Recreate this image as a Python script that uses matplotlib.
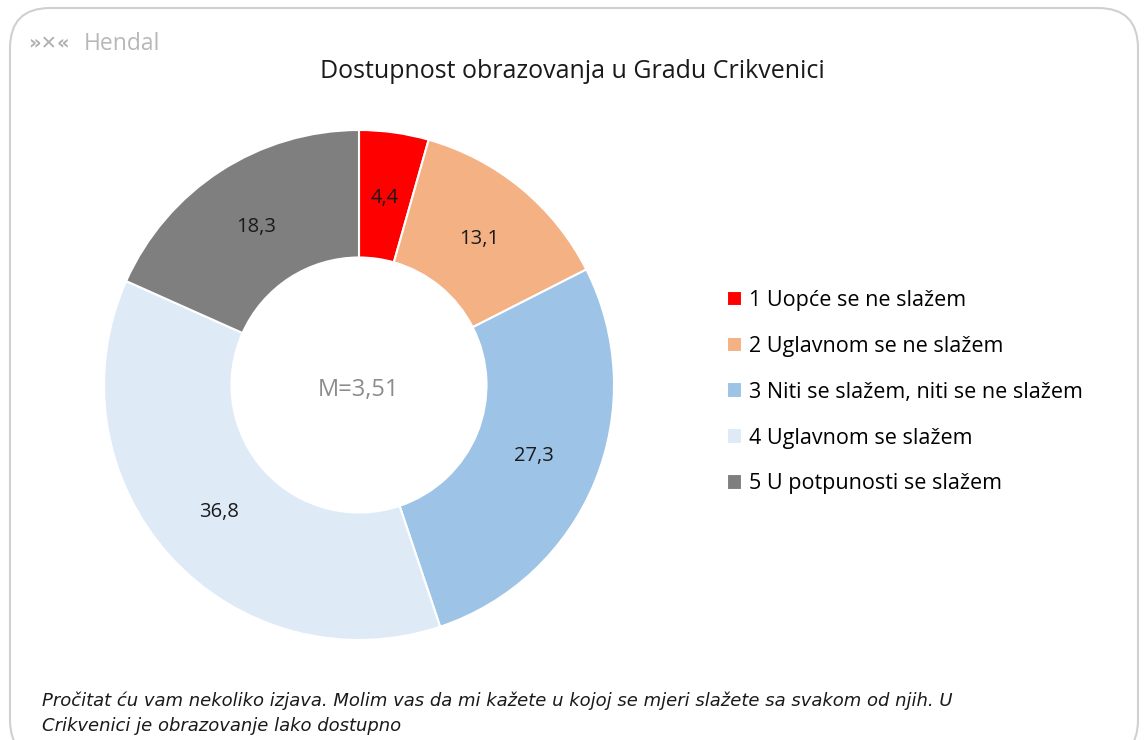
import matplotlib.pyplot as plt
from matplotlib.patches import FancyBboxPatch

# podaci sa slike
categories = ['1 Uopće se ne slažem', '2 Uglavnom se ne slažem',
              '3 Niti se slažem, niti se ne slažem', '4 Uglavnom se slažem',
              '5 U potpunosti se slažem']
values = [4.4, 13.1, 27.3, 36.8, 18.3]
colors = ['#FF0000', '#F4B183', '#9DC3E6', '#DEEBF7', '#7F7F7F']
mean_label = 'M=3,51'
title = 'Dostupnost obrazovanja u Gradu Crikvenici'
note = ('Pročitat ću vam nekoliko izjava. Molim vas da mi kažete u kojoj se mjeri slažete sa svakom od njih. U\n'
        'Crikvenici je obrazovanje lako dostupno')

plt.rcParams['font.family'] = ['Open Sans', 'DejaVu Sans']

W, H = 1147, 740
fig = plt.figure(figsize=(W / 100, H / 100), dpi=100)
fig.patch.set_facecolor('white')

# okvir
frame = FancyBboxPatch((10 / W, -20 / H), 1128 / W, 752 / H,
                       boxstyle='round,pad=0,rounding_size=0.035',
                       transform=fig.transFigure, facecolor='none',
                       edgecolor='#d0d0d0', linewidth=1.5, mutation_aspect=W / H, zorder=-1)
fig.patches.append(frame)

# logo
fig.text(28 / W, 1 - 44 / H, '»✕«', color='#b0b0b0', fontsize=14, fontweight='bold',
         va='center', ha='left', family='DejaVu Sans')
fig.text(84 / W, 1 - 44 / H, 'Hendal', color='#b8b8b8', fontsize=16.5, va='center', ha='left')

fig.text(572 / W, 1 - 72 / H, title, fontsize=18, ha='center', va='center', color='#1a1a1a')

cx, cy, r = 359, 385, 255
ax = fig.add_axes([(cx - r) / W, (H - cy - r) / H, 2 * r / W, 2 * r / H])
labels = [('%.1f' % v).replace('.', ',') for v in values]
wedges, texts = ax.pie(values, colors=colors, startangle=90, counterclock=False,
                       labels=labels, labeldistance=0.74, radius=1,
                       wedgeprops=dict(width=0.5, edgecolor='white', linewidth=1.5),
                       textprops=dict(fontsize=14.5, color='#1a1a1a'))
for t in texts:
    t.set_ha('center')
    t.set_va('center')
ax.text(0, -0.02, mean_label, ha='center', va='center', fontsize=17, color='#8c8c8c')
ax.set_xlim(-1, 1)
ax.set_ylim(-1, 1)
ax.set_aspect('equal')
ax.axis('off')

fig.legend(wedges, categories, loc='upper left', bbox_to_anchor=(718 / W, 1 - 281 / H),
           frameon=False, fontsize=15.5, handlelength=0.7, handleheight=0.7,
           handletextpad=0.35, labelspacing=1.16, borderaxespad=0)

fig.text(42 / W, 1 - 713 / H, note, fontsize=13, style='italic', ha='left', va='center',
         linespacing=1.5, family=['Liberation Sans Narrow', 'DejaVu Sans'], color='#1a1a1a')

fig.savefig('out.png', dpi=100)
